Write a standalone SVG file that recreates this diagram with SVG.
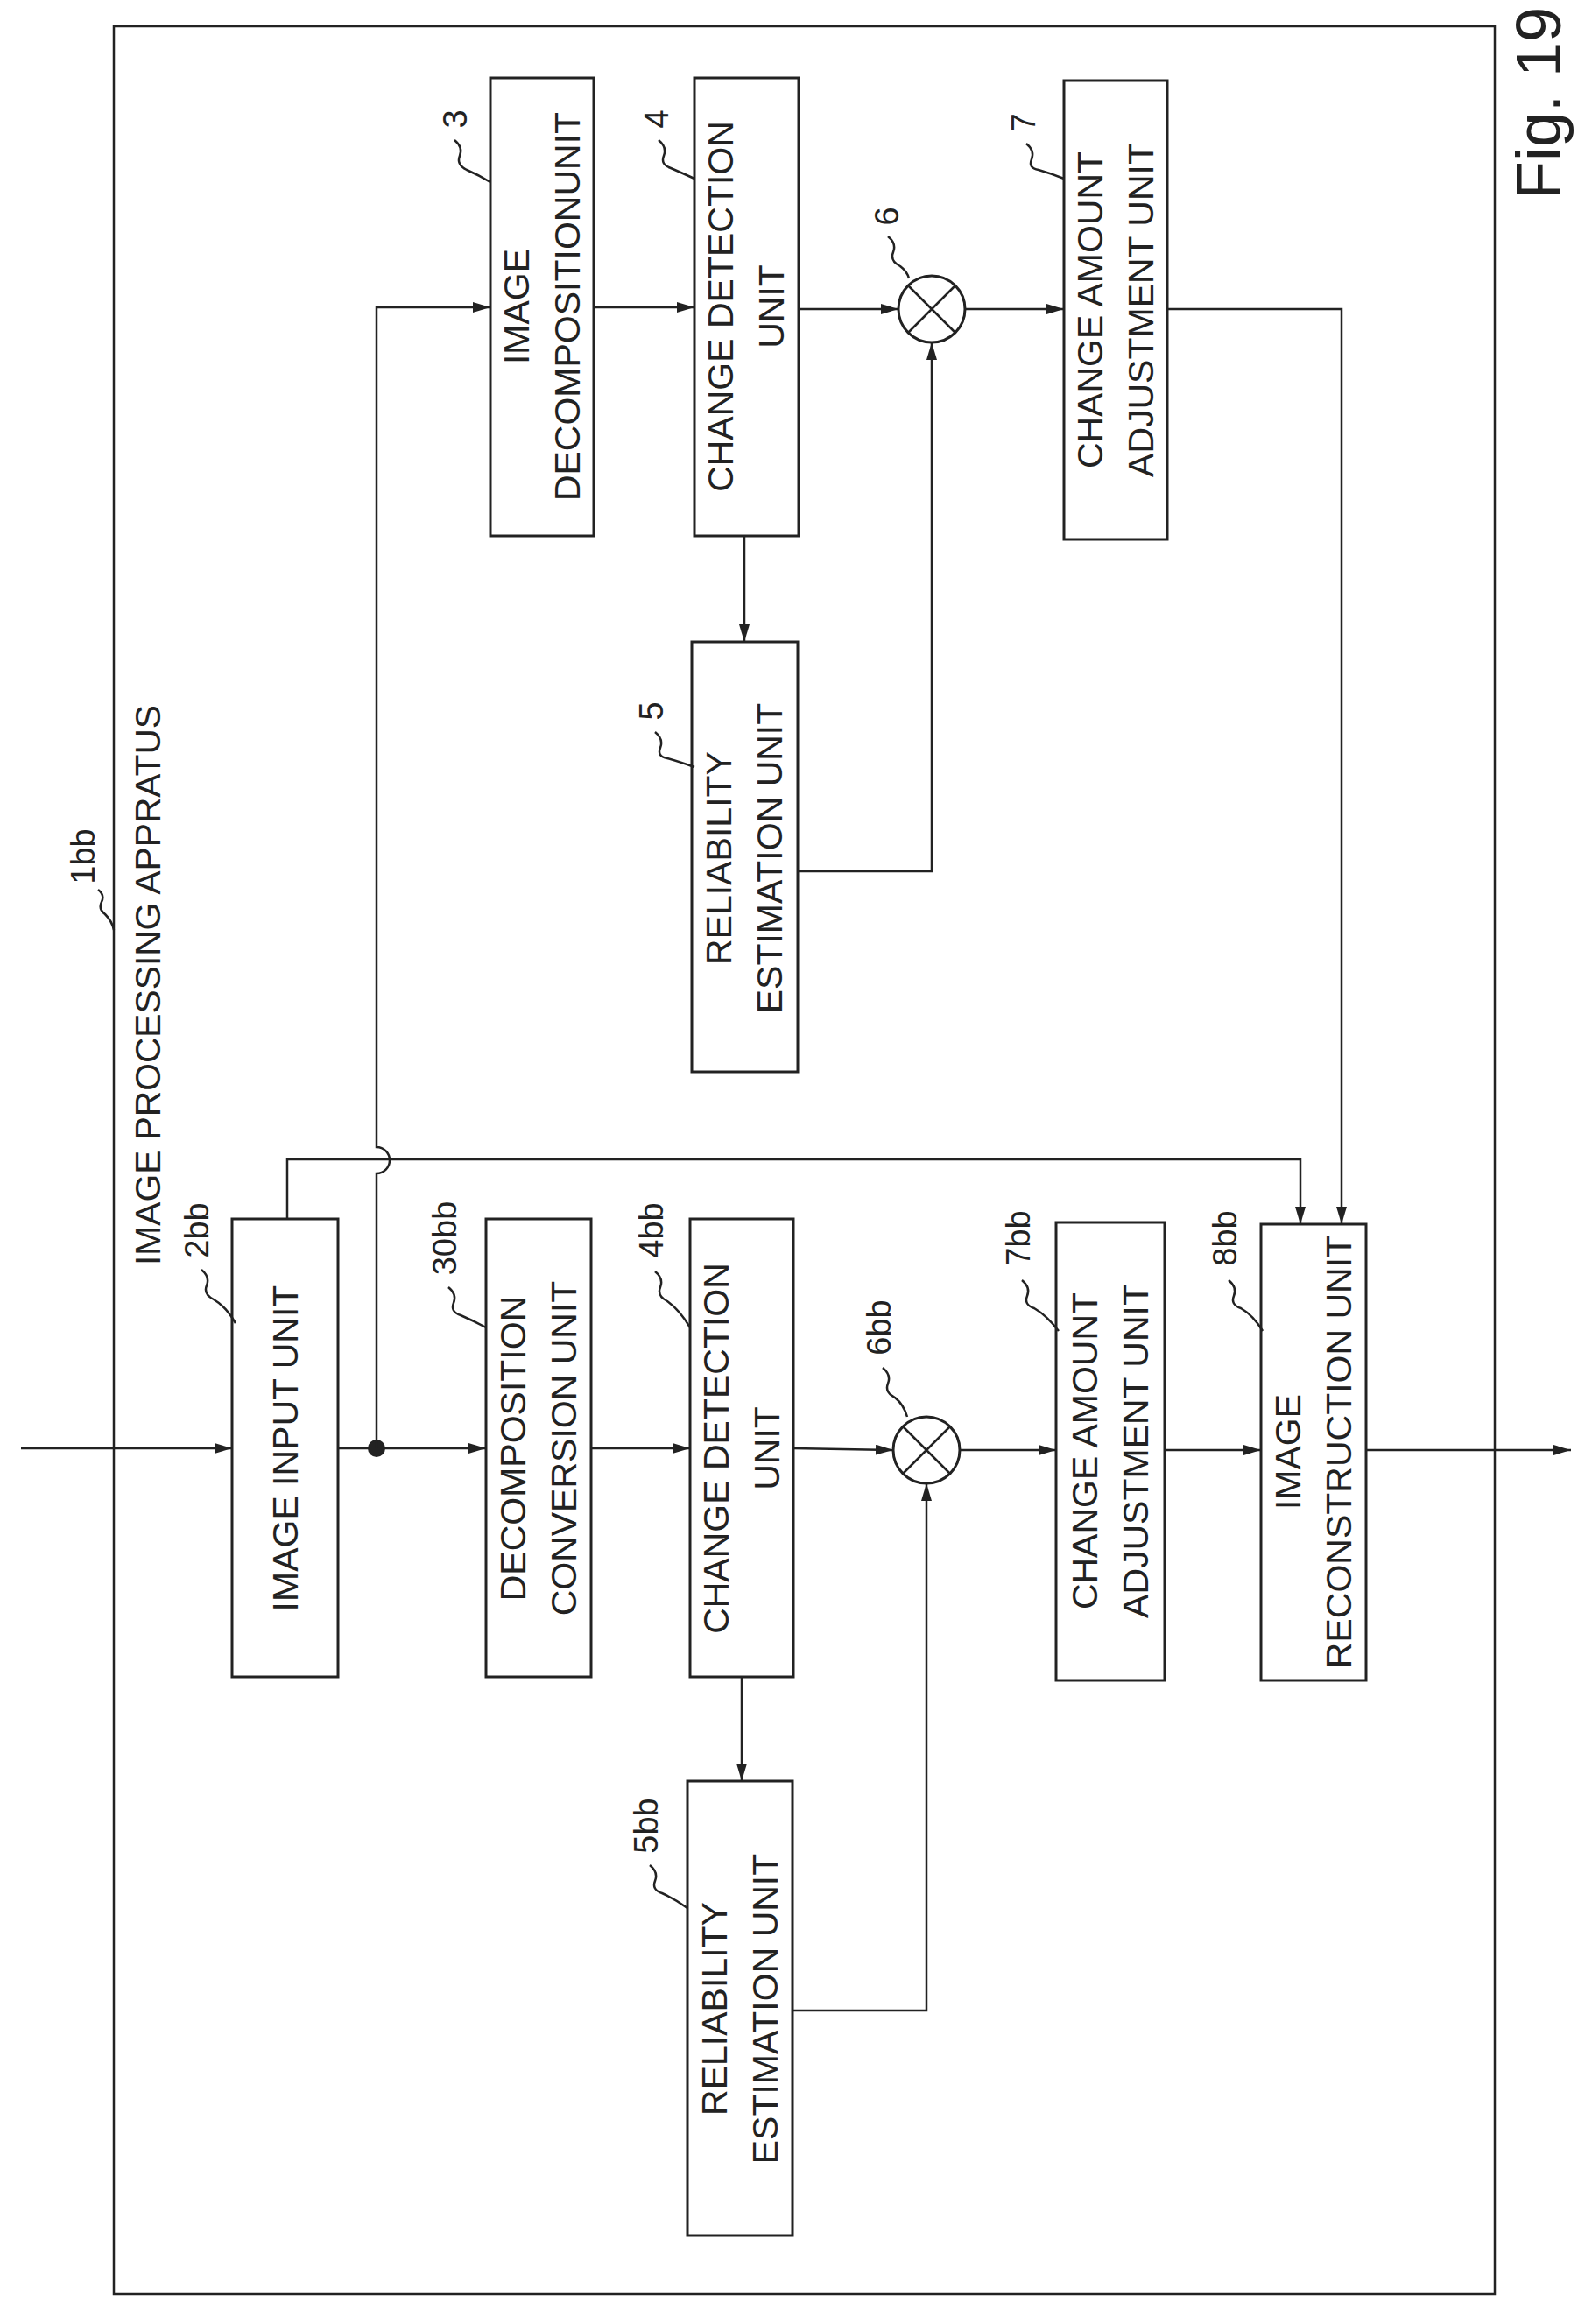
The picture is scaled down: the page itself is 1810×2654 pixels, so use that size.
<svg xmlns="http://www.w3.org/2000/svg" width="1810" height="2654" viewBox="0 0 1810 2654">
<style>
.b{fill:#fff;stroke:#222;stroke-width:3}
.l{fill:none;stroke:#222;stroke-width:2.5}
.t{font-family:"Liberation Sans",Arial,sans-serif;font-size:41px;fill:#222;text-anchor:middle}
.n{font-family:"Liberation Sans",Arial,sans-serif;font-size:38px;fill:#222;text-anchor:middle}
</style>
<defs>
<marker id="a" viewBox="0 0 20 12" refX="20" refY="6" markerWidth="20" markerHeight="12" markerUnits="userSpaceOnUse" orient="auto"><path d="M0,0 L20,6 L0,12 Z" fill="#222"/></marker>
</defs>
<rect width="1810" height="2654" fill="#fff"/>
<g id="frame">
<rect x="130" y="30" width="1577" height="2590" class="l" stroke-width="3"/>
<text class="t" transform="translate(183,1125) rotate(-90)" textLength="640" lengthAdjust="spacingAndGlyphs">IMAGE PROCESSING APPRATUS</text>
<text class="n" transform="translate(108,978) rotate(-90)">1bb</text>
<path class="l" d="M112,1016 q8,6 4,14 q-4,8 4,14 q8,8 10,18"/>
<text font-family="Liberation Sans,Arial,sans-serif" font-size="72" fill="#222" text-anchor="middle" transform="translate(1782,118) rotate(-90)">Fig. 19</text>
</g>
<g id="n3"><rect class="b" x="560" y="89" width="118" height="523"/>
<text class="t" transform="translate(619,350) rotate(-90)"><tspan x="0" y="-15">IMAGE</tspan><tspan x="0" y="43">DECOMPOSITIONUNIT</tspan></text>
<text class="n" transform="translate(533,136) rotate(-90)">3</text><path class="l" d="M519,160 q10,8 6,18 q-4,10 8,16 q14,6 27,14"/></g>
<g id="n4"><rect class="b" x="793" y="89" width="119" height="523"/>
<text class="t" transform="translate(852,350) rotate(-90)"><tspan x="0" y="-15">CHANGE DETECTION</tspan><tspan x="0" y="43">UNIT</tspan></text>
<text class="n" transform="translate(763,136) rotate(-90)">4</text><path class="l" d="M752,160 q10,8 6,18 q-4,10 8,14 q14,6 27,12"/></g>
<g id="n5"><rect class="b" x="790" y="733" width="121" height="491"/>
<text class="t" transform="translate(850,980) rotate(-90)"><tspan x="0" y="-15">RELIABILITY</tspan><tspan x="0" y="43">ESTIMATION UNIT</tspan></text>
<text class="n" transform="translate(757,812) rotate(-90)">5</text><path class="l" d="M748,836 q10,8 6,18 q-4,10 8,12 q14,4 31,10"/></g>
<g id="n6"><circle cx="1064" cy="353" r="38" class="b"/><path class="l" d="M1037,326 L1091,380 M1091,326 L1037,380"/>
<text class="n" transform="translate(1026,247) rotate(-90)">6</text><path class="l" d="M1014,270 q10,8 6,18 q-4,10 8,16 q8,6 10,14"/></g>
<g id="n7"><rect class="b" x="1215" y="92" width="118" height="524"/>
<text class="t" transform="translate(1274,354) rotate(-90)"><tspan x="0" y="-15">CHANGE AMOUNT</tspan><tspan x="0" y="43">ADJUSTMENT UNIT</tspan></text>
<text class="n" transform="translate(1182,140) rotate(-90)">7</text><path class="l" d="M1172,164 q10,8 6,18 q-4,10 8,12 q14,4 29,10"/></g>
<g id="n2bb"><rect class="b" x="265" y="1392" width="121" height="523"/>
<text class="t" transform="translate(326,1654) rotate(-90)"><tspan x="0" y="14">IMAGE INPUT UNIT</tspan></text>
<text class="n" transform="translate(238,1405) rotate(-90)">2bb</text><path class="l" d="M230,1450 q10,8 6,18 q-4,10 8,16 q14,8 25,27"/></g>
<g id="n30bb"><rect class="b" x="555" y="1392" width="120" height="523"/>
<text class="t" transform="translate(615,1654) rotate(-90)"><tspan x="0" y="-15">DECOMPOSITION</tspan><tspan x="0" y="43">CONVERSION UNIT</tspan></text>
<text class="n" transform="translate(521,1414) rotate(-90)">30bb</text><path class="l" d="M512,1470 q10,8 6,18 q-4,10 8,14 q14,6 29,14"/></g>
<g id="n4bb"><rect class="b" x="788" y="1392" width="118" height="523"/>
<text class="t" transform="translate(847,1654) rotate(-90)"><tspan x="0" y="-15">CHANGE DETECTION</tspan><tspan x="0" y="43">UNIT</tspan></text>
<text class="n" transform="translate(757,1405) rotate(-90)">4bb</text><path class="l" d="M748,1452 q10,8 6,18 q-4,10 8,16 q14,10 26,30"/></g>
<g id="n5bb"><rect class="b" x="785" y="2034" width="120" height="519"/>
<text class="t" transform="translate(845,2294) rotate(-90)"><tspan x="0" y="-15">RELIABILITY</tspan><tspan x="0" y="43">ESTIMATION UNIT</tspan></text>
<text class="n" transform="translate(751,2085) rotate(-90)">5bb</text><path class="l" d="M742,2130 q10,8 6,18 q-4,10 8,14 q14,6 29,17"/></g>
<g id="n6bb"><circle cx="1058" cy="1656" r="38" class="b"/><path class="l" d="M1031,1629 L1085,1683 M1085,1629 L1031,1683"/>
<text class="n" transform="translate(1017,1516) rotate(-90)">6bb</text><path class="l" d="M1008,1562 q10,8 6,18 q-4,10 8,16 q10,8 14,22"/></g>
<g id="n7bb"><rect class="b" x="1206" y="1396" width="124" height="523"/>
<text class="t" transform="translate(1268,1657) rotate(-90)"><tspan x="0" y="-15">CHANGE AMOUNT</tspan><tspan x="0" y="43">ADJUSTMENT UNIT</tspan></text>
<text class="n" transform="translate(1176,1414) rotate(-90)">7bb</text><path class="l" d="M1167,1462 q10,8 6,18 q-4,10 8,14 q14,8 28,26"/></g>
<g id="n8bb"><rect class="b" x="1440" y="1398" width="120" height="521"/>
<text class="t" transform="translate(1500,1658) rotate(-90)"><tspan x="0" y="-15">IMAGE</tspan><tspan x="0" y="43">RECONSTRUCTION UNIT</tspan></text>
<text class="n" transform="translate(1412,1414) rotate(-90)">8bb</text><path class="l" d="M1403,1462 q10,8 6,18 q-4,10 8,14 q14,8 25,26"/></g>
<g id="connectors" class="l">
<path d="M24,1654 L265,1654" marker-end="url(#a)"/>
<path d="M386,1654 L555,1654" marker-end="url(#a)"/>
<circle cx="430" cy="1654" r="10" fill="#222" stroke="none"/>
<path d="M675,1654 L788,1654" marker-end="url(#a)"/>
<path d="M906,1654 L1020,1656" marker-end="url(#a)"/>
<path d="M1096,1656 L1206,1656" marker-end="url(#a)"/>
<path d="M1330,1656 L1440,1656" marker-end="url(#a)"/>
<path d="M1560,1656 L1794,1656" marker-end="url(#a)"/>
<path d="M847,1915 L847,2034" marker-end="url(#a)"/>
<path d="M905,2296 L1058,2296 L1058,1694" marker-end="url(#a)"/>
<path d="M430,1654 L430,1340 A14,14 0 0 0 430,1310 L430,351 L560,351" marker-end="url(#a)"/>
<path d="M328,1392 L328,1324 L1485,1324 L1485,1398" marker-end="url(#a)"/>
<path d="M678,351 L793,351" marker-end="url(#a)"/>
<path d="M912,353 L1026,353" marker-end="url(#a)"/>
<path d="M1102,353 L1215,353" marker-end="url(#a)"/>
<path d="M1333,353 L1532,353 L1532,1398" marker-end="url(#a)"/>
<path d="M850,612 L850,733" marker-end="url(#a)"/>
<path d="M911,995 L1064,995 L1064,391" marker-end="url(#a)"/>
</g>
</svg>
